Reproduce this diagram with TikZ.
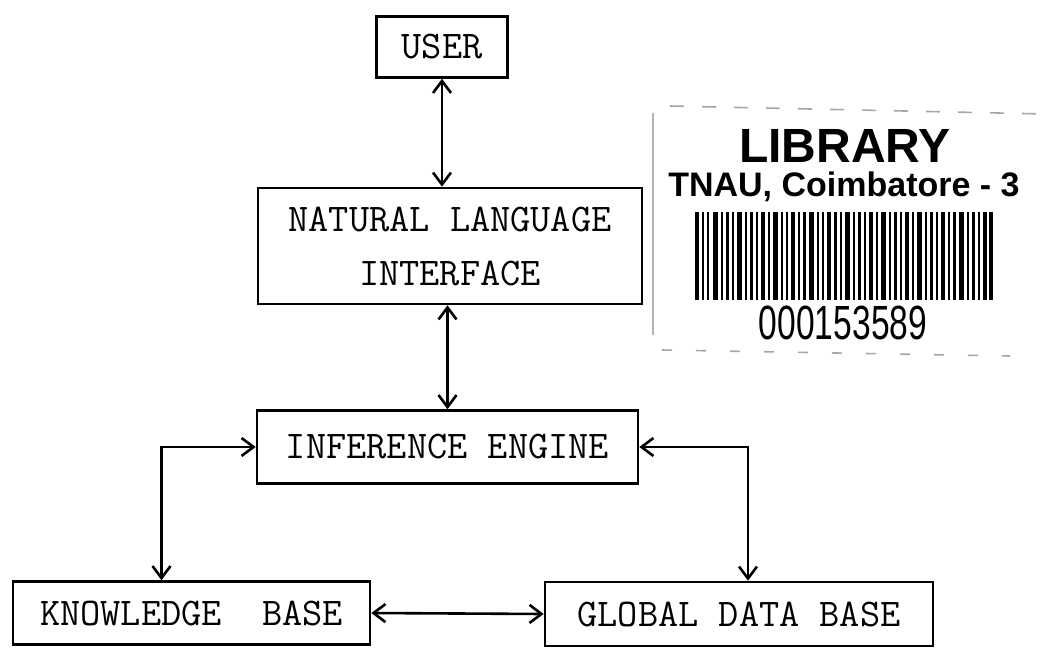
\documentclass[tikz,border=0pt]{standalone}
\usepackage{fontspec}
\newfontfamily\stampfont{Liberation Sans}
\usetikzlibrary{
	arrows.meta
}
\tikzset{
	>={Straight Barb[length=6pt,width=9pt]},
	box/.style={
		draw,
		line width=1.3pt,
		inner sep=0pt,
		align=center,
		font=\ttfamily\fontsize{19.6}{27}\selectfont
	},
	every edge/.append style={
		line width=1.3pt,
		<->
	},
	elbow/.style={
		to path={-| (\tikztotarget)}
	}
}

\begin{document}
\begin{tikzpicture}[x=0.5pt,y=-0.5pt]
		\useasboundingbox (0,0) rectangle (1045,648);
		\draw
			node[box,minimum width=65.5pt,minimum height=30.5pt]  (user) at (442,47)    {USER}
			node[box,minimum width=192pt,minimum height=58pt]     (nli)  at (450,246)   {NATURAL LANGUAGE\\INTERFACE}
			node[box,minimum width=190.5pt,minimum height=36.5pt] (ie)   at (447.5,447) {INFERENCE ENGINE}
			node[box,minimum width=178.5pt,minimum height=31.5pt] (kb)   at (191.5,613) {KNOWLEDGE\ \ BASE}
			node[box,minimum width=194pt,minimum height=32pt]     (gdb)  at (739,614)   {GLOBAL DATA BASE}

			(user.south) edge (user.south |- nli.north)
			(ie.north) edge (ie.north |- nli.south)
			(ie.west) edge[elbow] ([xshift=-15pt]kb.north)
			(ie.east) edge[elbow] ([xshift=4.5pt]gdb.north)
			(kb.east) edge (gdb.west)
		;

		% library stamp
		\draw[gray!70,line width=0.8pt,dash pattern=on 7pt off 9pt] (670,106) -- (1045,114);
		\draw[gray!60,line width=0.6pt] (653,113) -- (653,335);
		\draw[gray!70,line width=0.8pt,dash pattern=on 5pt off 12pt] (662,350) -- (1010,356);
		\node[font=\stampfont\bfseries\fontsize{24}{24}\selectfont]   (lib)  at (845,146) {LIBRARY};
		\node[font=\stampfont\bfseries\fontsize{17}{17}\selectfont]   (tnau) at (844,187) {TNAU, Coimbatore - 3};
		\node[font=\stampfont\fontsize{24}{24}\selectfont,xscale=0.7] (acc)  at (843,323) {000153589};
		\foreach \bx/\bw in {0/4,7/2,12/2,18/5,26/2,31/3,37/2,42/5,50/2,55/3,61/2,66/4,73/2,78/5,86/2,91/2,96/4,103/2,108/3,114/5,122/2,127/2,132/4,139/3,145/2,150/5,158/2,163/3,169/2,174/4,181/2,186/5,194/2,199/3,205/2,210/4,217/2,222/5,230/2,235/3,241/2,246/4,253/2,258/3,264/5,272/2,277/3,283/2,288/4,294/4}
			\fill (695+\bx,212) rectangle ++(\bw,88);
	\end{tikzpicture}
\end{document}
